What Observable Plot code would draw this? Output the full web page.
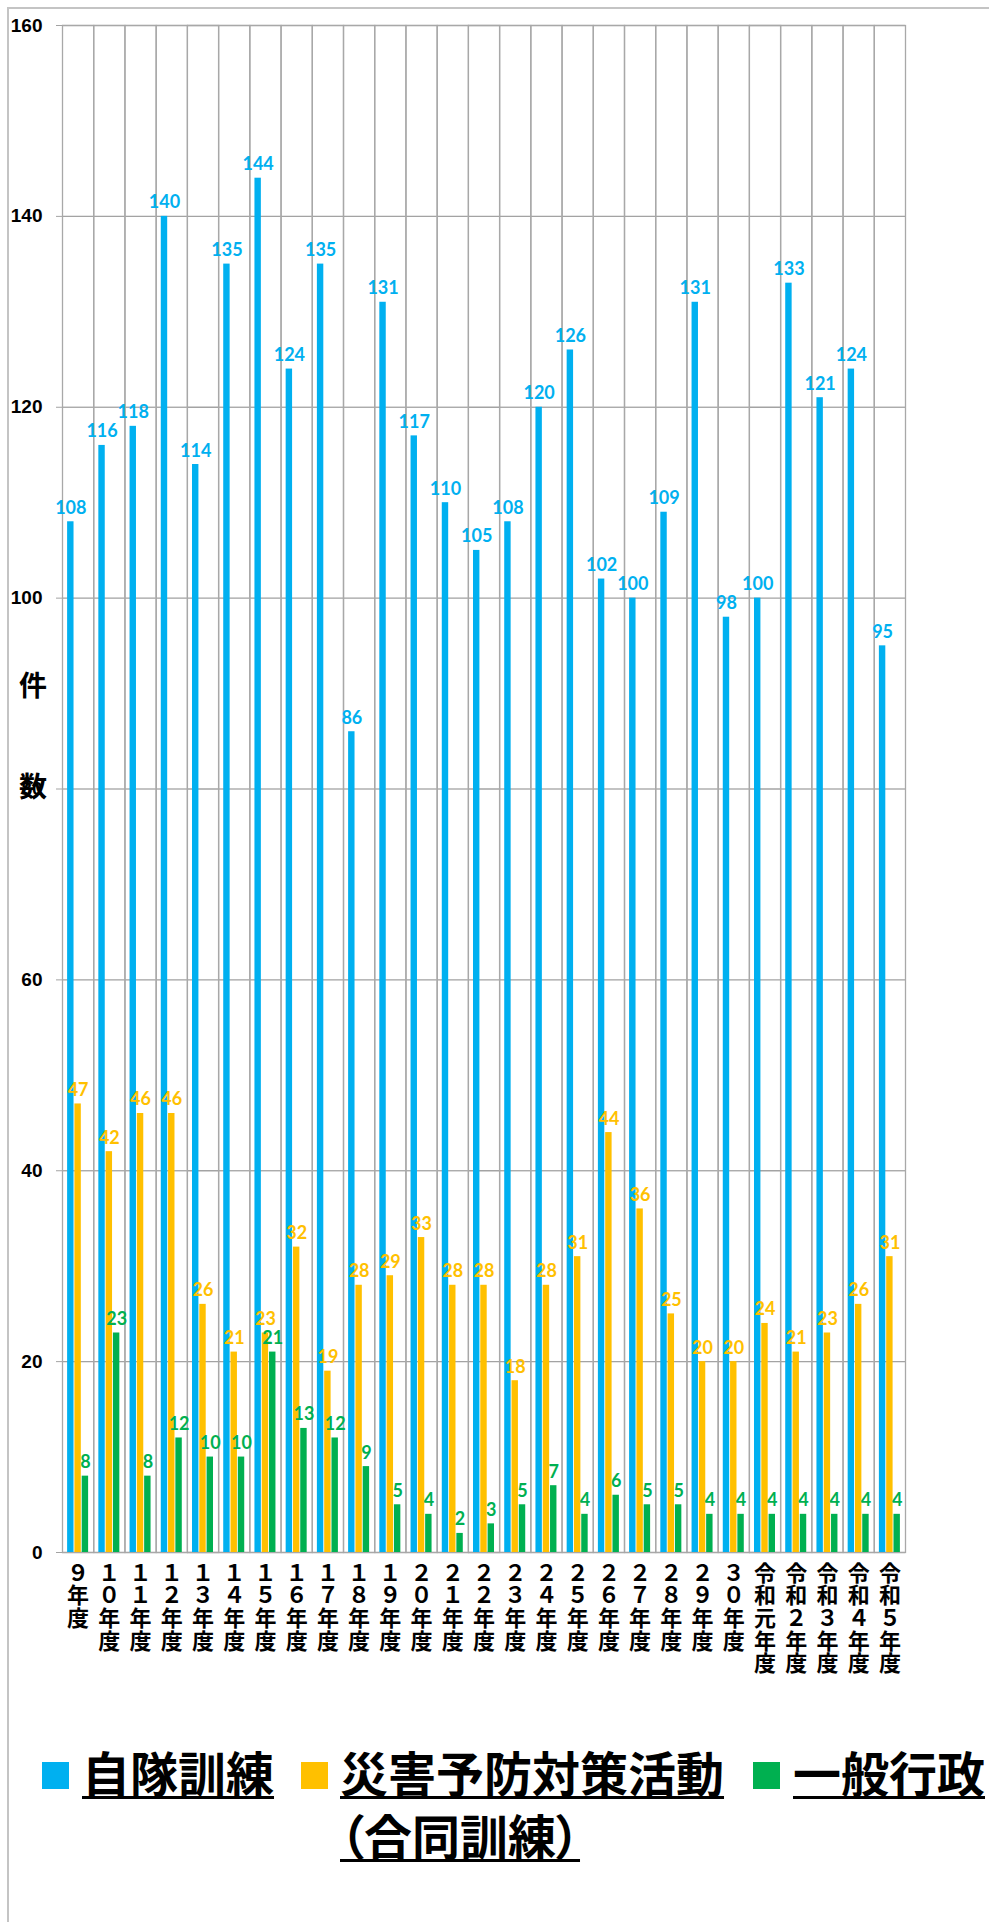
<!DOCTYPE html>
<html>
<head>
<meta charset="utf-8">
<script src="https://cdn.jsdelivr.net/npm/d3@7"></script>
<script src="https://cdn.jsdelivr.net/npm/@observablehq/plot@0.6"></script>
<style>
  html, body { margin: 0; padding: 0; background: #fff; }
  body { position: relative; width: 989px; height: 1922px; overflow: hidden; font-family: "Noto Sans CJK JP", sans-serif; }
  #frame { position: absolute; left: 7px; top: 7px; width: 1100px; height: 2100px; border-left: 2px solid #c4c4c4; border-top: 2px solid #c4c4c4; pointer-events: none; }
  #chart { position: absolute; left: 0; top: 0; }
  .ylab { position: absolute; font-family: "Noto Sans CJK JP", sans-serif; font-weight: 700; font-size: 28px; line-height: 28px; color: #000; }
  .sw { position: absolute; width: 27px; height: 27px; }
  .lt { position: absolute; font-family: "Noto Sans CJK JP", sans-serif; font-weight: 700; font-size: 48px; line-height: 63px; color: #000; text-decoration: underline; text-decoration-thickness: 3px; text-underline-offset: 4px; white-space: nowrap; }
  .palt { font-feature-settings: "palt" 1; }
</style>
</head>
<body>
<div id="frame"></div>
<div id="chart"></div>
<div class="ylab" style="left:19px; top:670px;">件</div>
<div class="ylab" style="left:19px; top:771px;">数</div>
<div id="legend"></div>
<script>
const years = ["９年度","１０年度","１１年度","１２年度","１３年度","１４年度","１５年度","１６年度","１７年度","１８年度","１９年度","２０年度","２１年度","２２年度","２３年度","２４年度","２５年度","２６年度","２７年度","２８年度","２９年度","３０年度","令和元年度","令和２年度","令和３年度","令和４年度","令和５年度"];
const series = ["自隊訓練", "災害予防対策活動（合同訓練）", "一般行政"];
const colors = ["#00B0F0", "#FFC000", "#00B050"];
const jitaiKunren = [108,116,118,140,114,135,144,124,135,86,131,117,110,105,108,120,126,102,100,109,131,98,100,133,121,124,95];
const saigaiYobou = [47,42,46,46,26,21,23,32,19,28,29,33,28,28,18,28,31,44,36,25,20,20,24,21,23,26,31];
const ippanGyousei = [8,23,8,12,10,10,21,13,12,9,5,4,2,3,5,7,4,6,5,5,4,4,4,4,4,4,4];
const yTicks = [0,20,40,60,80,100,120,140,160];

const valuesBySeries = [jitaiKunren, saigaiYobou, ippanGyousei];
const data = [];
years.forEach((yr, i) => {
  series.forEach((s, j) => data.push({year: yr, series: s, value: valuesBySeries[j][i]}));
});

const chart = Plot.plot({
  width: 989,
  height: 1700,
  marginLeft: 62,
  marginRight: 84,
  marginTop: 25,
  marginBottom: 148,
  style: {fontFamily: "'Noto Sans CJK JP', sans-serif", background: "transparent", overflow: "visible"},
  fx: {domain: years, padding: 0, round: false, label: null},
  x: {domain: series, paddingInner: 0.12, paddingOuter: 0.7, round: false, axis: null},
  y: {domain: [0, 160], label: null},
  color: {domain: series, range: colors},
  marks: [
    Plot.gridY({ticks: yTicks, stroke: "#a3a3a3", strokeOpacity: 1, strokeWidth: 1.3}),
    Plot.frame({stroke: "#a8a8a8", strokeWidth: 1.3}),
    Plot.axisY({ticks: yTicks, tickSize: 6, tickPadding: 14, stroke: "#a3a3a3", fill: "#000", fontSize: 19, fontWeight: "bold", fontFamily: "'Liberation Sans', Arial, sans-serif", label: null}),
    Plot.axisFx({anchor: "bottom", tickSize: 0, tickPadding: 12, lineHeight: 1.03, fontSize: 22, fontWeight: "bold", fill: "#000", fontFamily: "'Noto Sans CJK JP', sans-serif", tickFormat: d => [...d].join("\n"), label: null}),
    Plot.barY(data, {fx: "year", x: "series", y: "value", fill: "series"}),
    Plot.text(data, {fx: "year", x: "series", y: "value", text: d => String(d.value), fill: "series", dy: -8, lineAnchor: "bottom", fontSize: 18, fontWeight: "bold", fontFamily: "Lato, 'Open Sans', sans-serif"})
  ]
});
document.getElementById("chart").appendChild(chart);

// Legend (HTML, below the SVG)
const legendItems = [
  {name: "自隊訓練", lines: ["自隊訓練"], sq: 42, tx: 82},
  {name: "災害予防対策活動（合同訓練）", lines: ["災害予防対策活動", "（合同訓練）"], sq: 301, tx: 340},
  {name: "一般行政", lines: ["一般行政"], sq: 753, tx: 793}
];
const legend = document.getElementById("legend");
legendItems.forEach((it) => {
  const sw = document.createElement("div");
  sw.className = "sw";
  sw.style.left = it.sq + "px";
  sw.style.top = "1762px";
  sw.style.background = colors[series.indexOf(it.name)];
  legend.appendChild(sw);
  it.lines.forEach((ln, k) => {
    const t = document.createElement("div");
    t.className = "lt" + (k > 0 ? " palt" : "");
    t.style.left = it.tx + "px";
    t.style.top = (1740 + k * 63) + "px";
    t.textContent = ln;
    legend.appendChild(t);
  });
});
</script>
</body>
</html>
